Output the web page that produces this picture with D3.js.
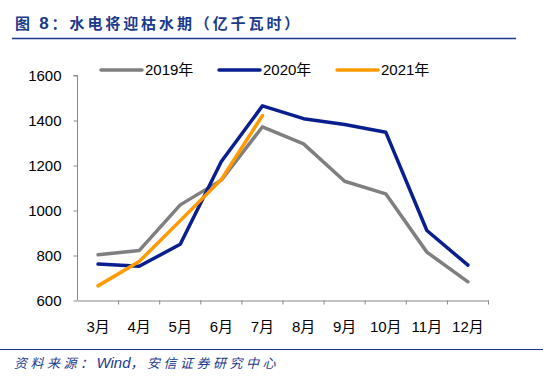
<html>
<head>
    <meta charset="utf-8">
    <style>
        body { margin: 0; background: #fff; }
        svg { display: block; font-family: "Liberation Sans", Arial, sans-serif; }
    </style>
</head>
<body>
    <div id="chart"></div>
    <script src="https://d3js.org/d3.v7.min.js"></script>
    <script>
        // Dados
        const months = ["3月", "4月", "5月", "6月", "7月", "8月", "9月", "10月", "11月", "12月"];
        const v2019 = [803, 822, 1025, 1135, 1372, 1296, 1130, 1074, 815, 683];
        const v2020 = [762, 752, 850, 1218, 1465, 1408, 1382, 1348, 911, 757];
        const v2021 = [665, 773, 955, 1138, 1422];
        const yTicks = [600, 800, 1000, 1200, 1400, 1600];

        const series = [
            { name: "2019年", values: v2019, color: "#7f7f7f" },
            { name: "2020年", values: v2020, color: "#0a1f8f" },
            { name: "2021年", values: v2021, color: "#ff9a00" }
        ];

        const svg = d3.select("#chart").append("svg")
            .attr("width", 550)
            .attr("height", 385);

        // Titulo
        const title = svg.append("text")
            .attr("x", 15).attr("y", 29)
            .style("font-family", "'Noto Sans CJK SC', sans-serif")
            .style("font-size", "15px")
            .style("letter-spacing", "2.9px")
            .style("font-weight", "bold")
            .style("fill", "#1b3a8c");
        title.append("tspan").text("图 ");
        title.append("tspan")
            .style("font-family", "'Liberation Sans', sans-serif")
            .style("font-size", "17px")
            .text("8");
        title.append("tspan").text("：水电将迎枯水期（亿千瓦时）");

        svg.append("line")
            .attr("x1", 12).attr("x2", 516)
            .attr("y1", 38.5).attr("y2", 38.5)
            .attr("stroke", "#1b3a8c").attr("stroke-width", 1.5);

        const x = d3.scaleBand().domain(months).range([77.5, 488.5]);
        const y = d3.scaleLinear().domain([600, 1600]).range([300.5, 75.5]);

        // Eixo Y
        const yAxis = svg.append("g")
            .attr("transform", "translate(77.5,0)")
            .call(d3.axisLeft(y).tickValues(yTicks).tickFormat(d3.format("d")).tickSize(4).tickPadding(12));
        yAxis.select(".domain").attr("stroke", "#888").attr("d", "M-4,75.5H0V300.5");
        yAxis.selectAll(".tick line").attr("stroke", "#888");
        yAxis.selectAll("text").style("font-size", "15px").style("fill", "#000");

        // Eixo X
        const xAxis = svg.append("g")
            .attr("transform", "translate(0,300.5)")
            .call(d3.axisBottom(x).tickSize(0).tickPadding(21));
        xAxis.select(".domain").attr("stroke", "#888");
        xAxis.selectAll("text")
            .style("font-size", "15px").style("fill", "#000")
            .style("font-family", "'Liberation Sans', 'Noto Sans CJK SC', sans-serif");
        xAxis.selectAll(".tickmark")
            .data(months.slice(1).concat(["end"]))
            .join("line")
            .attr("x1", (d, i) => x(months[0]) + x.bandwidth() * (i + 1))
            .attr("x2", (d, i) => x(months[0]) + x.bandwidth() * (i + 1))
            .attr("y1", 0).attr("y2", 4)
            .attr("stroke", "#888");

        // Linhas
        const line = d3.line()
            .x((d, i) => x(months[i]) + x.bandwidth() / 2)
            .y(d => y(d));

        svg.selectAll(".serie")
            .data(series)
            .join("path")
            .attr("d", d => line(d.values))
            .attr("fill", "none")
            .attr("stroke", d => d.color)
            .attr("stroke-width", 3.5)
            .attr("stroke-linecap", "round")
            .attr("stroke-linejoin", "round");

        // Legenda
        const legX = [101, 219, 337];
        const leg = svg.selectAll(".leg")
            .data(series)
            .join("g")
            .attr("transform", (d, i) => `translate(${legX[i]},70)`);
        leg.append("line")
            .attr("x1", 0).attr("x2", 41)
            .attr("stroke", d => d.color)
            .attr("stroke-width", 3.5)
            .attr("stroke-linecap", "round");
        leg.append("text")
            .attr("x", 44).attr("dy", "0.35em")
            .style("font-size", "15px")
            .style("font-family", "'Liberation Sans', 'Noto Sans CJK SC', sans-serif")
            .text(d => d.name);

        // Fonte
        svg.append("line")
            .attr("x1", 0).attr("x2", 543)
            .attr("y1", 349.5).attr("y2", 349.5)
            .attr("stroke", "#1b3a8c").attr("stroke-width", 1.2);

        const src = svg.append("text")
            .attr("x", 14).attr("y", 368)
            .style("font-family", "'Noto Sans CJK SC', sans-serif")
            .style("font-size", "13px")
            .style("letter-spacing", "3.5px")
            .style("font-style", "italic")
            .style("fill", "#1b3a8c");
        src.append("tspan").text("资料来源：");
        src.append("tspan")
            .style("font-family", "'Liberation Sans', sans-serif")
            .style("font-size", "15px")
            .style("letter-spacing", "0px")
            .text("Wind");
        src.append("tspan").text("，安信证券研究中心");
    </script>
</body>
</html>
